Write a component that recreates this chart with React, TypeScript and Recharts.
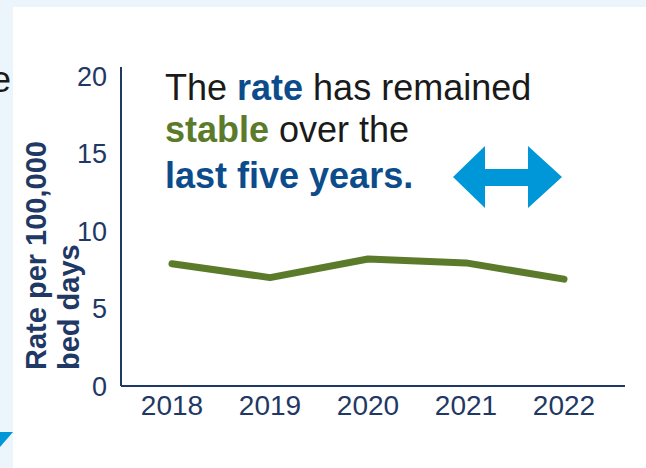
import React from 'react';
import { LineChart, Line, XAxis, YAxis } from 'recharts';

const years = ['2018', '2019', '2020', '2021', '2022'];
const rates = [7.9, 7.0, 8.2, 7.95, 6.9];
const yTicks = [0, 5, 10, 15, 20];

const data = years.map((year, i) => ({ year, rate: rates[i] }));

const NAVY = '#1f3864';
const GREEN = '#5b7b2b';
const BLUE_TXT = '#0d4c8b';
const ARROW = '#0097d9';
const FONT = '"Liberation Sans", Arial, Helvetica, sans-serif';

const AxisTitle = () => (
  <g fill={NAVY} fontFamily={FONT} fontWeight="bold" fontSize={29}>
    <text transform="translate(46,370) rotate(-90)" textAnchor="start">Rate per 100,000</text>
    <text transform="translate(79,370) rotate(-90)" textAnchor="start">bed days</text>
  </g>
);

const App: React.FC = () => {
  return (
    <div style={{ position: 'absolute', left: 0, top: 0, width: 646, height: 468, background: '#edf5fc', overflow: 'hidden' }}>
      <div style={{ position: 'absolute', left: 13, top: 7, right: 0, bottom: 0, background: '#ffffff' }} />
      <svg width={646} height={468} style={{ position: 'absolute', left: 0, top: 0 }}>
        <text x={11} y={92} textAnchor="end" fontFamily={FONT} fontSize={36} fill="#1a1a1a">e</text>
        <polygon points="0,432 13,432 0,447" fill={ARROW} />
      </svg>
      <div style={{ position: 'absolute', left: 0, top: 0 }}>
        <LineChart width={646} height={468} data={data} margin={{ top: 67, right: 21, bottom: 42, left: 0 }}>
          <XAxis
            dataKey="year"
            height={40}
            padding={{ left: 51, right: 61 }}
            tickLine={false}
            tickSize={0}
            tickMargin={9}
            axisLine={{ stroke: NAVY, strokeWidth: 2 }}
            tick={{ fill: NAVY, fontSize: 28, fontFamily: FONT }}
            interval={0}
          />
          <YAxis
            type="number"
            domain={[0, 20.6]}
            ticks={yTicks}
            width={121}
            tickLine={false}
            tickSize={0}
            tickMargin={14}
            axisLine={{ stroke: NAVY, strokeWidth: 2 }}
            tick={{ fill: NAVY, fontSize: 27, fontFamily: FONT }}
            label={<AxisTitle />}
          />
          <Line
            type="linear"
            dataKey="rate"
            stroke={GREEN}
            strokeWidth={7}
            strokeLinecap="round"
            strokeLinejoin="round"
            dot={false}
            activeDot={false}
            isAnimationActive={false}
          />
        </LineChart>
      </div>
      <svg width={646} height={468} style={{ position: 'absolute', left: 0, top: 0, pointerEvents: 'none' }}>
        <g fontFamily={FONT} fontSize={36} fill="#1a1a1a">
          <text x={165} y={100}>
            The <tspan fill={BLUE_TXT} fontWeight="bold">rate</tspan> has remained
          </text>
          <text x={165} y={142}>
            <tspan fill={GREEN} fontWeight="bold">stable</tspan> over the
          </text>
          <text x={165} y={188} fill={BLUE_TXT} fontWeight="bold">last five years.</text>
        </g>
        <polygon
          points="453,177 485,146 485,169 528,169 528,146 562,177 528,208 528,186 485,186 485,208"
          fill={ARROW}
        />
      </svg>
    </div>
  );
};

export default App;
